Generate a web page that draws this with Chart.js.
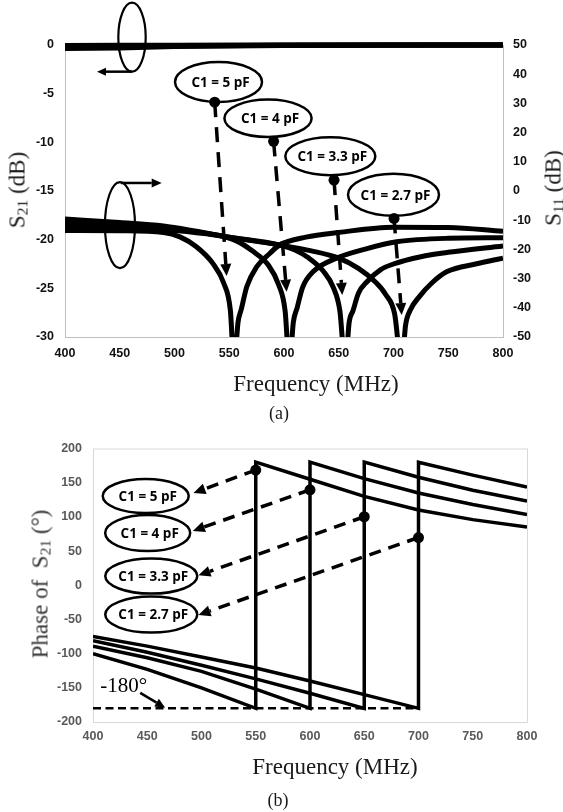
<!DOCTYPE html>
<html>
<head>
<meta charset="utf-8">
<script src="https://cdn.jsdelivr.net/npm/chart.js@4.4.1/dist/chart.umd.min.js"></script>
<style>
  html, body { margin: 0; padding: 0; background: #fff; }
  #wrap { position: relative; width: 563px; height: 812px; overflow: hidden; background: #fff; }
  canvas { position: absolute; left: 0; }
  #chartA { top: 0; }
  #chartB { top: 430px; }
  .ttl { position: absolute; font-family: "Liberation Serif", "Times New Roman", serif; font-size: 23px; color: #1a1a1a; white-space: nowrap; line-height: 1; transform: translate(-50%, -50%); }
  .rot { transform: translate(-50%, -50%) rotate(-90deg); }
  .ttl sub { font-size: 0.68em; vertical-align: -0.22em; line-height: 0; }
</style>
</head>
<body>
<div id="wrap">
  <canvas id="chartA" width="563" height="400"></canvas>
  <canvas id="chartB" width="563" height="382"></canvas>
  <div class="ttl rot" style="left:17px;top:190px">S<sub>21</sub> (dB)</div>
  <div class="ttl rot" style="left:553px;top:188px">S<sub>11</sub> (dB)</div>
  <div class="ttl" style="left:316px;top:383px">Frequency (MHz)</div>
  <div class="ttl" style="left:279px;top:413px;font-size:18px">(a)</div>
  <div class="ttl rot" style="left:40px;top:584px;color:#333">Phase of&nbsp; S<sub>21</sub> (°)</div>
  <div class="ttl" style="left:335px;top:766px">Frequency (MHz)</div>
  <div class="ttl" style="left:278px;top:800px;font-size:18px">(b)</div>
</div>
<script>
// (a) S21 (left axis), all four C1 values sit on top of each other near 0 dB
const s21Freq = [400, 450, 500, 600, 700, 800];
const s21C5 = [-0.35, -0.3, -0.15, -0.05, -0.02, 0];
const s21C4 = [-0.25, -0.2, -0.1, -0.03, -0.01, 0];
const s21C33 = [-0.15, -0.1, -0.05, -0.02, 0, 0];
const s21C27 = [-0.05, -0.03, -0.02, 0, 0, 0];

// (a) S11 (right axis)
const s11Freq5 = [400, 450, 490, 505, 520, 535, 545, 551, 554.5, 558, 561, 566, 575, 587, 596, 620, 650, 700, 750, 800];
const s11C5 = [-13.5, -13.6, -14.2, -15.7, -19.1, -24.8, -31.6, -40.8, -60, -45, -40.5, -32.8, -26, -21.4, -18.5, -15.8, -14.2, -12.4, -12.5, -13.8];
const s11Freq4 = [400, 450, 490, 520, 540, 556, 571, 586, 595, 601, 605, 608.5, 612, 617, 627, 648, 675, 703, 750, 800];
const s11C4 = [-12.2, -12.6, -13.2, -14.3, -15.3, -17, -20.5, -25.5, -32, -41, -60, -45, -40, -33, -27.5, -23, -19.8, -17.4, -16.2, -16];
const s11Freq33 = [400, 450, 490, 520, 550, 596, 610, 622, 636, 645, 651, 656, 659.5, 663, 668, 676, 688, 700, 725, 750, 800];
const s11C33 = [-10.8, -11.6, -12.4, -14, -15.8, -18.5, -20.2, -22.8, -27.5, -33, -41, -60, -45, -41, -35, -31, -27, -25, -22.5, -21, -18.8];
const s11Freq27 = [400, 450, 490, 520, 550, 596, 625, 650, 668, 683, 693, 701, 707.5, 711, 715, 724, 735, 749, 775, 800];
const s11C27 = [-9.6, -10.8, -12, -13.8, -15.8, -18.5, -20.5, -23, -26.5, -31, -35.5, -42, -60, -46, -41, -36, -31.5, -27.6, -25, -23];

// (b) phase of S21, wraps from -180 to +180 at resonance
const phFreq5 = [400, 450, 500, 550, 550, 600, 650, 700, 750, 800];
const phC5 = [-100, -123, -150, -180, 180, 155, 130, 110, 96, 85];
const phFreq4 = [400, 450, 500, 550, 600, 600, 650, 700, 750, 800];
const phC4 = [-89, -106, -126, -152, -180, 180, 156, 135, 118, 103.5];
const phFreq33 = [400, 450, 500, 550, 600, 650, 650, 700, 750, 800];
const phC33 = [-81, -98, -117, -137, -158, -180, 180, 158, 139, 123];
const phFreq27 = [400, 450, 500, 550, 600, 650, 700, 700, 750, 800];
const phC27 = [-75, -89, -105, -121, -140, -160, -180, 180, 161, 143.5];
const refFreq = [400, 700];
const refPhase = [-180, -180];

const xTicks = [400, 450, 500, 550, 600, 650, 700, 750, 800];

// callouts: ellipse centre / dot / arrow tip in data units
const calloutsA = [
    { text: "C1 = 5 pF", cx: 540.2, cy: 37.3, rx: 43.5, ry: 20, dot: [536.7, 30.4], tip: [547.6, -29.1] },
    { text: "C1 = 4 pF", cx: 585.4, cy: 24.9, rx: 43.6, ry: 18.7, dot: [590.5, 17.0], tip: [602.4, -34.5] },
    { text: "C1 = 3.3 pF", cx: 642.3, cy: 11.9, rx: 45, ry: 19, dot: [645.7, 3.7], tip: [653.2, -35.6] },
    { text: "C1 = 2.7 pF", cx: 700, cy: -1.3, rx: 45.5, ry: 21, dot: [700.5, -9.4], tip: [707.5, -42.5] },
];
const calloutsB = [
    { text: "C1 = 5 pF", cx: 448.6, cy: 130.5, rx: 43, ry: 17, dot: [550, 168.5], tip: [492.6, 134.9] },
    { text: "C1 = 4 pF", cx: 450.4, cy: 76.3, rx: 42.5, ry: 18, dot: [600, 139.6], tip: [492, 79.5] },
    { text: "C1 = 3.3 pF", cx: 453.7, cy: 13.4, rx: 46, ry: 17.5, dot: [650, 100.2], tip: [497.2, 14.5] },
    { text: "C1 = 2.7 pF", cx: 453.7, cy: -42.9, rx: 46, ry: 18, dot: [700, 69.8], tip: [497.2, -43.4] },
];

const pts = (xs, ys) => xs.map((x, i) => ({ x, y: ys[i] }));
const tickFont = { family: "'Liberation Sans', Arial, sans-serif", size: 12.5, weight: "bold" };

function ellipse(ctx, cx, cy, rx, ry, lw, fill) {
    ctx.beginPath();
    ctx.ellipse(cx, cy, rx, ry, 0, 0, Math.PI * 2);
    if (fill) {
        ctx.fillStyle = "#fff";
        ctx.fill();
    }
    ctx.lineWidth = lw;
    ctx.strokeStyle = "#000";
    ctx.stroke();
}

function arrow(ctx, x0, y0, x1, y1, lw, dash, headLen, headW) {
    const a = Math.atan2(y1 - y0, x1 - x0);
    const bx = x1 - Math.cos(a) * headLen;
    const by = y1 - Math.sin(a) * headLen;
    ctx.beginPath();
    ctx.setLineDash(dash);
    ctx.lineWidth = lw;
    ctx.strokeStyle = "#000";
    ctx.moveTo(x0, y0);
    ctx.lineTo(bx, by);
    ctx.stroke();
    ctx.setLineDash([]);
    ctx.beginPath();
    ctx.moveTo(x1, y1);
    ctx.lineTo(bx + Math.sin(a) * headW / 2, by - Math.cos(a) * headW / 2);
    ctx.lineTo(bx - Math.sin(a) * headW / 2, by + Math.cos(a) * headW / 2);
    ctx.closePath();
    ctx.fillStyle = "#000";
    ctx.fill();
}

function dot(ctx, x, y, r) {
    ctx.beginPath();
    ctx.arc(x, y, r, 0, Math.PI * 2);
    ctx.fillStyle = "#000";
    ctx.fill();
}

function drawCallouts(ctx, list, xs, ys, dash) {
    list.forEach((c) => {
        const dx = xs.getPixelForValue(c.dot[0]);
        const dy = ys.getPixelForValue(c.dot[1]);
        arrow(ctx, dx, dy, xs.getPixelForValue(c.tip[0]), ys.getPixelForValue(c.tip[1]), 3.5, dash, 12, 11);
        const ex = xs.getPixelForValue(c.cx);
        const ey = ys.getPixelForValue(c.cy);
        ellipse(ctx, ex, ey, c.rx, c.ry, 2.5, true);
        ctx.font = "bold 13.5px 'Open Sans', sans-serif";
        ctx.fillStyle = "#000";
        ctx.textAlign = "center";
        ctx.textBaseline = "middle";
        ctx.fillText(c.text, ex + 2, ey + 1);
        dot(ctx, dx, dy, 5.5);
    });
}

const annotA = {
    id: "annotA",
    afterDatasetsDraw(chart) {
        const ctx = chart.ctx;
        const x = chart.scales.x;
        const yl = chart.scales.y;
        const yr = chart.scales.y1;
        ctx.save();
        // S21 group -> left axis
        ellipse(ctx, x.getPixelForValue(461.2), yl.getPixelForValue(0.8), 13.7, 34.5, 2.2, false);
        arrow(ctx, x.getPixelForValue(461.2), yl.getPixelForValue(-2.74), x.getPixelForValue(429.2), yl.getPixelForValue(-2.74), 2.5, [], 9, 8);
        // S11 group -> right axis
        ellipse(ctx, x.getPixelForValue(450.2), yr.getPixelForValue(-11.7), 15, 43, 2.2, false);
        arrow(ctx, x.getPixelForValue(451), yr.getPixelForValue(2.75), x.getPixelForValue(488.3), yr.getPixelForValue(2.75), 2.5, [], 10, 9);
        drawCallouts(ctx, calloutsA, x, yr, [15, 10]);
        ctx.restore();
    },
};

const annotB = {
    id: "annotB",
    beforeDatasetsDraw(chart) {
        const a = chart.chartArea;
        const ctx = chart.ctx;
        ctx.save();
        ctx.strokeStyle = "#d9d9d9";
        ctx.lineWidth = 1;
        ctx.strokeRect(a.left + 0.5, a.top + 0.5, a.right - a.left, a.bottom - a.top);
        ctx.restore();
    },
    afterDatasetsDraw(chart) {
        const ctx = chart.ctx;
        const x = chart.scales.x;
        const y = chart.scales.y;
        ctx.save();
        drawCallouts(ctx, calloutsB, x, y, [12, 8]);
        arrow(ctx, x.getPixelForValue(443.5), y.getPixelForValue(-157.5), x.getPixelForValue(466.5), y.getPixelForValue(-179.2), 2.5, [], 10, 9);
        ctx.font = "21px 'Liberation Serif', 'Times New Roman', serif";
        ctx.fillStyle = "#000";
        ctx.textAlign = "center";
        ctx.textBaseline = "middle";
        ctx.fillText("-180°", x.getPixelForValue(428.4), y.getPixelForValue(-147.4));
        ctx.restore();
    },
};

const lineStyle = (data, axis, width) => ({
    data,
    yAxisID: axis,
    borderColor: "#000",
    borderWidth: width,
    pointRadius: 0,
    fill: false,
});

new Chart(document.getElementById("chartA"), {
    type: "line",
    data: {
        datasets: [
            { ...lineStyle(pts(s21Freq, s21C5), "y", 5), clip: { left: 0, right: 0, top: 6, bottom: 0 } },
            { ...lineStyle(pts(s21Freq, s21C4), "y", 5), clip: { left: 0, right: 0, top: 6, bottom: 0 } },
            { ...lineStyle(pts(s21Freq, s21C33), "y", 5), clip: { left: 0, right: 0, top: 6, bottom: 0 } },
            { ...lineStyle(pts(s21Freq, s21C27), "y", 5), clip: { left: 0, right: 0, top: 6, bottom: 0 } },
            { ...lineStyle(pts(s11Freq5, s11C5), "y1", 5), cubicInterpolationMode: "monotone", clip: 0 },
            { ...lineStyle(pts(s11Freq4, s11C4), "y1", 5), cubicInterpolationMode: "monotone", clip: 0 },
            { ...lineStyle(pts(s11Freq33, s11C33), "y1", 5), cubicInterpolationMode: "monotone", clip: 0 },
            { ...lineStyle(pts(s11Freq27, s11C27), "y1", 5), cubicInterpolationMode: "monotone", clip: 0 },
        ],
    },
    options: {
        responsive: false,
        animation: false,
        devicePixelRatio: 1,
        layout: { padding: { top: 45, left: 0, right: 0, bottom: 0 } },
        plugins: { legend: { display: false }, tooltip: { enabled: false } },
        scales: {
            x: {
                type: "linear", min: 400, max: 800,
                afterBuildTicks: (s) => { s.ticks = xTicks.map((v) => ({ value: v })); },
                afterFit: (s) => { s.height = 63; },
                grid: { display: false, drawTicks: false },
                border: { display: true, color: "#bfbfbf", dash: [4, 3], width: 1 },
                ticks: { font: tickFont, color: "#111", padding: 9, maxRotation: 0, autoSkip: false },
            },
            y: {
                position: "left", min: -30, max: 0,
                ticks: { stepSize: 5, font: tickFont, color: "#111", padding: 11 },
                afterFit: (s) => { s.width = 65; },
                grid: { display: false, drawTicks: false },
                border: { display: true, color: "#bfbfbf", dash: [4, 3], width: 1 },
            },
            y1: {
                position: "right", min: -50, max: 50,
                ticks: { stepSize: 10, font: tickFont, color: "#111", padding: 10 },
                afterFit: (s) => { s.width = 60; },
                grid: { display: false, drawTicks: false },
                border: { display: true, color: "#bfbfbf", dash: [4, 3], width: 1 },
            },
        },
    },
    plugins: [annotA],
});

new Chart(document.getElementById("chartB"), {
    type: "line",
    data: {
        datasets: [
            { ...lineStyle(pts(refFreq, refPhase), "y", 2.5), borderDash: [8, 4.5] },
            lineStyle(pts(phFreq5, phC5), "y", 3.5),
            lineStyle(pts(phFreq4, phC4), "y", 3.5),
            lineStyle(pts(phFreq33, phC33), "y", 3.5),
            lineStyle(pts(phFreq27, phC27), "y", 3.5),
        ],
    },
    options: {
        responsive: false,
        animation: false,
        devicePixelRatio: 1,
        layout: { padding: { top: 15, left: 0, right: 36, bottom: 0 } },
        plugins: { legend: { display: false }, tooltip: { enabled: false } },
        scales: {
            x: {
                type: "linear", min: 400, max: 800,
                afterBuildTicks: (s) => { s.ticks = xTicks.map((v) => ({ value: v })); },
                afterFit: (s) => { s.height = 90; },
                grid: { display: false, drawTicks: false },
                border: { display: false },
                ticks: { font: tickFont, color: "#595959", padding: 7, maxRotation: 0, autoSkip: false },
            },
            y: {
                min: -200, max: 200,
                ticks: { stepSize: 50, font: tickFont, color: "#595959", padding: 11 },
                afterFit: (s) => { s.width = 93; },
                grid: { display: false, drawTicks: false },
                border: { display: false },
            },
        },
    },
    plugins: [annotB],
});
</script>
</body>
</html>
